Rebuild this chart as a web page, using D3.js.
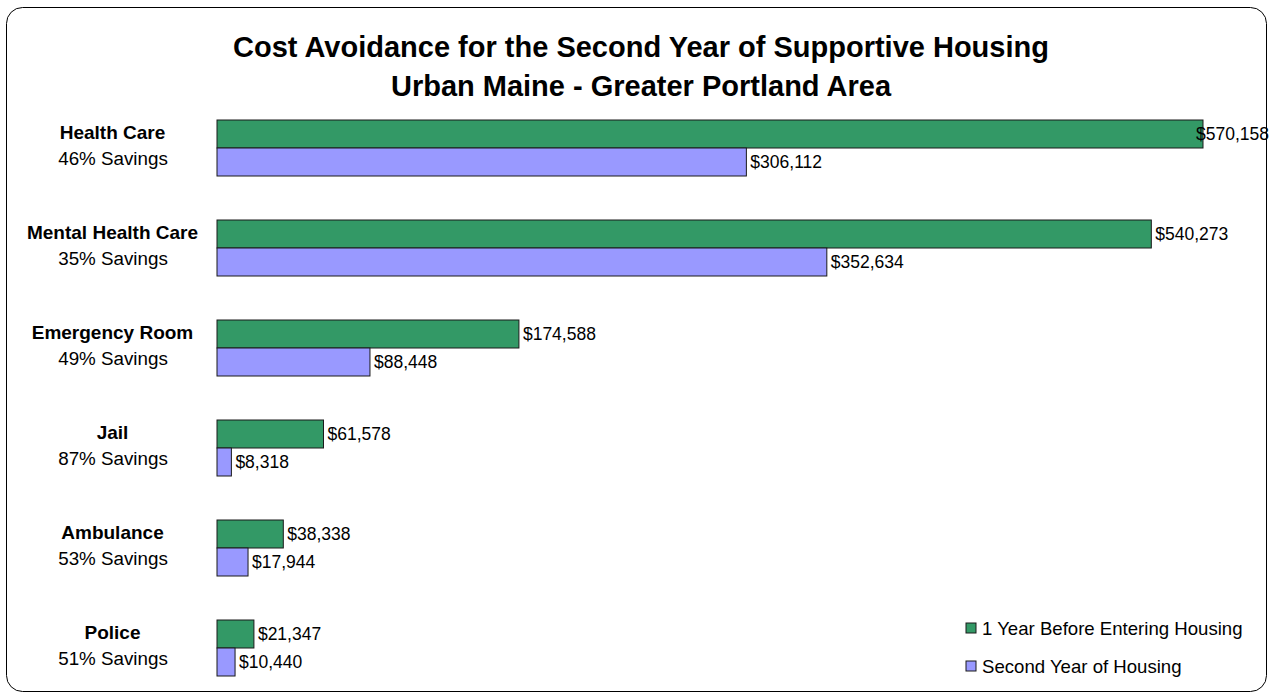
<!DOCTYPE html>
<html>
<head>
<meta charset="utf-8">
<script src="https://cdn.jsdelivr.net/npm/d3@7"></script>
<style>
  html, body { margin: 0; padding: 0; background: #fff; }
  svg { display: block; font-family: Arial, "Liberation Sans", sans-serif; }
</style>
</head>
<body>
<svg id="chart" width="1269" height="694"></svg>
<script>
// data
const categories = ["Health Care", "Mental Health Care", "Emergency Room", "Jail", "Ambulance", "Police"];
const savings = ["46% Savings", "35% Savings", "49% Savings", "87% Savings", "53% Savings", "51% Savings"];
const seriesNames = ["1 Year Before Entering Housing", "Second Year of Housing"];
const beforeValues = [570158, 540273, 174588, 61578, 38338, 21347];
const secondValues = [306112, 352634, 88448, 8318, 17944, 10440];
const seriesColors = ["#339966", "#9999ff"];

const W = 1269, H = 694;
const svg = d3.select("#chart");

// rounded frame
svg.append("rect")
  .attr("x", 6.5).attr("y", 7.5)
  .attr("width", W - 9).attr("height", H - 10)
  .attr("rx", 16).attr("ry", 16)
  .attr("fill", "#fff").attr("stroke", "#000").attr("stroke-width", 1);

// title
const title = svg.append("text")
  .attr("text-anchor", "middle")
  .attr("font-weight", "bold")
  .attr("font-size", 29)
  .attr("fill", "#000");
title.append("tspan").attr("x", 641).attr("y", 57).text("Cost Avoidance for the Second Year of Supportive Housing");
title.append("tspan").attr("x", 641).attr("y", 96).text("Urban Maine - Greater Portland Area");

// scales
const x = d3.scaleLinear().domain([0, 570158]).range([217, 1203]);
const y = d3.scaleBand().domain(categories).range([98, 698]).paddingInner(0.44).paddingOuter(0.22);
const ySub = d3.scaleBand().domain([0, 1]).range([0, y.bandwidth()]);

const rows = categories.map((c, i) => ({
  cat: c, saving: savings[i],
  vals: [beforeValues[i], secondValues[i]]
}));

const fmt = v => "$" + d3.format(",")(v);

const groups = svg.append("g").selectAll("g.group")
  .data(rows)
  .join("g")
  .attr("class", "group")
  .attr("transform", d => `translate(0,${y(d.cat)})`);

groups.selectAll("rect")
  .data(d => d.vals.map((v, k) => ({ v, k })))
  .join("rect")
  .attr("x", x(0))
  .attr("y", d => ySub(d.k))
  .attr("width", d => x(d.v) - x(0))
  .attr("height", ySub.bandwidth())
  .attr("fill", d => seriesColors[d.k])
  .attr("stroke", "#1a1a1a")
  .attr("stroke-width", 1);

// value labels (pushed back inside the frame when they run out of room)
groups.selectAll("text.val")
  .data(d => d.vals.map((v, k) => ({ v, k })))
  .join("text")
  .attr("class", "val")
  .attr("x", d => Math.min(x(d.v) + 4, 1196))
  .attr("y", d => ySub(d.k) + ySub.bandwidth() / 2)
  .attr("dy", "0.36em")
  .attr("font-size", 17.5)
  .attr("fill", "#000")
  .text(d => fmt(d.v));

// category labels
groups.append("text")
  .attr("x", 112.5)
  .attr("y", 19)
  .attr("text-anchor", "middle")
  .attr("font-weight", "bold")
  .attr("font-size", 19)
  .text(d => d.cat);
groups.append("text")
  .attr("x", 113)
  .attr("y", 45)
  .attr("text-anchor", "middle")
  .attr("font-size", 18.8)
  .text(d => d.saving);

// legend
const legend = svg.append("g").selectAll("g")
  .data(seriesNames)
  .join("g")
  .attr("transform", (d, i) => `translate(966,${623 + i * 38})`);
legend.append("rect")
  .attr("width", 10).attr("height", 10)
  .attr("fill", (d, i) => seriesColors[i])
  .attr("stroke", "#1a1a1a");
legend.append("text")
  .attr("x", 16).attr("y", 5)
  .attr("dy", "0.36em")
  .attr("font-size", 18.6)
  .text(d => d);
</script>
</body>
</html>
